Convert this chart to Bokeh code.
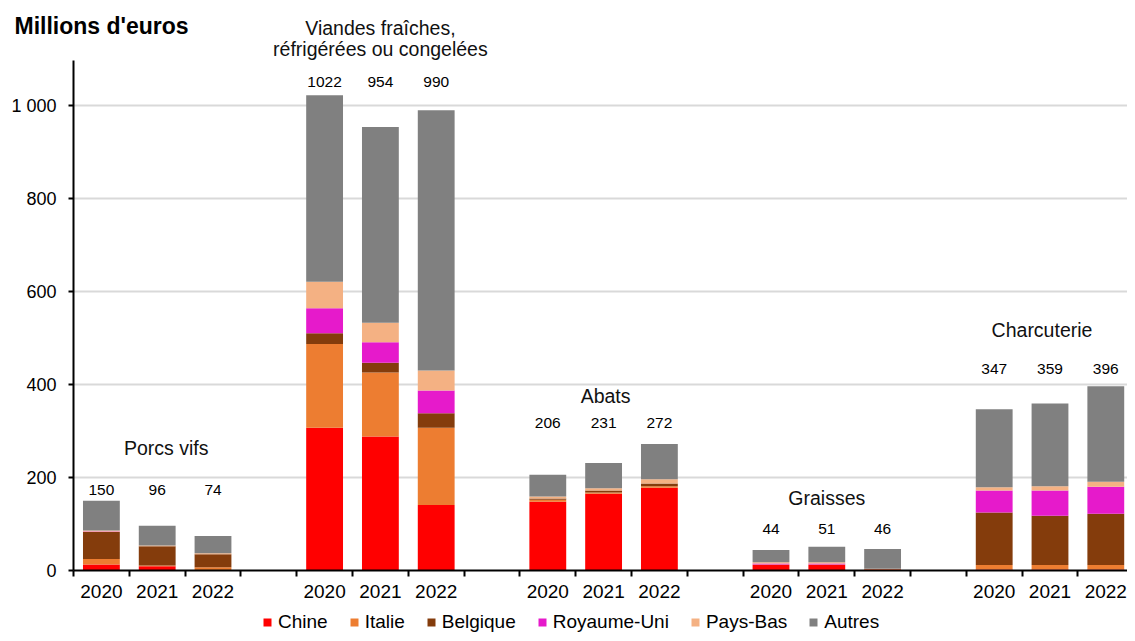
from bokeh.plotting import figure
from bokeh.models import ColumnDataSource, FixedTicker, Label, Legend, LegendItem, Range1d
from bokeh.embed import file_html
from bokeh.resources import INLINE
from bokeh.core.properties import value

groups = ["Porcs vifs", "Viandes fraîches,|réfrigérées ou congelées", "Abats", "Graisses", "Charcuterie"]
years = ["2020", "2021", "2022"]
totals = [150, 96, 74, 1022, 954, 990, 206, 231, 272, 44, 51, 46, 347, 359, 396]
chine = [13, 9, 1, 307, 288, 141, 148, 165, 178, 12, 12, 2, 2, 2, 2]
italie = [12, 2, 6, 180, 138, 166, 4, 3, 3, 1, 1, 1, 10, 10, 10]
belgique = [58, 41, 28, 23, 21, 31, 3, 4, 6, 0, 0, 0, 113, 106, 110]
royaume_uni = [1, 0, 0, 54, 44, 49, 0, 0, 0, 2, 2, 0, 47, 54, 58]
pays_bas = [2, 2, 2, 57, 42, 43, 4, 5, 9, 3, 3, 1, 7, 9, 11]
autres = [64, 42, 37, 401, 421, 560, 47, 54, 76, 26, 33, 42, 168, 178, 205]
y_ticks = [0, 200, 400, 600, 800, 1000]

series = ["Chine", "Italie", "Belgique", "Royaume-Uni", "Pays-Bas", "Autres"]
colors = ["#FF0000", "#ED7D31", "#843C0C", "#E61ACB", "#F4B183", "#808080"]

FONT = "Liberation Sans"
W, H = 1127, 633
X0_PX, SLOT_PX = 73, 55.8      # y-axis pixel position, width of one slot
Y0_PX, PX_PER_UNIT = 570, 0.465

# layout: each group takes 3 slots + 1 empty slot
xs, xlabels, gid = [], [], []
for g in range(len(groups)):
    for k in range(len(years)):
        xs.append(g * 4 + k + 0.5)
        xlabels.append(years[k])
        gid.append(g)
nslots = len(groups) * 4 - 1

# value labels: one height per group, a few pixels above the group's tallest bar
label_gap_px = [11, 13, 21, 18, 17]
gmax = [max(t for t, gg in zip(totals, gid) if gg == g) for g in range(len(groups))]
label_y = [gmax[g] + label_gap_px[g] / PX_PER_UNIT for g in gid]

src = ColumnDataSource(dict(x=xs, ly=label_y, label=[str(t) for t in totals],
                            Chine=chine, Italie=italie, Belgique=belgique,
                            **{"Royaume-Uni": royaume_uni, "Pays-Bas": pays_bas},
                            Autres=autres))

x_start = -X0_PX / SLOT_PX
x_end = (W - X0_PX) / SLOT_PX
y_start = -(H - Y0_PX) / PX_PER_UNIT
y_end = Y0_PX / PX_PER_UNIT

p = figure(width=W, height=H, output_backend="svg", toolbar_location=None,
           x_range=Range1d(x_start, x_end), y_range=Range1d(y_start, y_end),
           min_border_left=0, min_border_right=0, min_border_top=0, min_border_bottom=0)
p.outline_line_color = None
p.background_fill_color = "white"
p.border_fill_color = "white"

renderers = p.vbar_stack(series, x="x", width=0.66, color=colors, source=src, line_color=None)

p.text(x="x", y="ly", text="label", source=src, text_align="center", text_baseline="middle",
       text_font=value(FONT), text_font_size="15.5px", text_color="black")

# axes
p.xgrid.grid_line_color = None
p.ygrid.grid_line_color = "#D9D9D9"
p.ygrid.grid_line_width = 2
p.ygrid.ticker = FixedTicker(ticks=y_ticks[1:])
try:
    p.ygrid.cross_bounds = (0, nslots)
except Exception:
    pass

p.yaxis.fixed_location = 0
p.yaxis.bounds = (0, 1097)
p.yaxis.ticker = FixedTicker(ticks=y_ticks)
p.yaxis.major_label_overrides = {1000: "1 000"}
p.yaxis.axis_line_width = 2
p.yaxis.axis_line_color = "black"
p.yaxis.major_tick_out = 5
p.yaxis.major_tick_in = 0
p.yaxis.major_tick_line_width = 2
p.yaxis.minor_tick_line_color = None
p.yaxis.major_label_text_font = FONT
p.yaxis.major_label_text_font_size = "18px"
p.yaxis.major_label_text_color = "black"
p.yaxis.major_label_standoff = 12

p.xaxis.fixed_location = 0
p.xaxis.bounds = (0, nslots)
p.xaxis.ticker = FixedTicker(ticks=xs, minor_ticks=list(range(0, nslots + 1)))
p.xaxis.major_label_overrides = {x: l for x, l in zip(xs, xlabels)}
p.xaxis.major_tick_line_color = None
p.xaxis.minor_tick_out = 6
p.xaxis.minor_tick_in = 0
p.xaxis.minor_tick_line_width = 2
p.xaxis.minor_tick_line_color = "black"
p.xaxis.axis_line_width = 2
p.xaxis.axis_line_color = "black"
p.xaxis.major_label_text_font = FONT
p.xaxis.major_label_text_font_size = "19px"
p.xaxis.major_label_text_color = "black"
p.xaxis.major_label_standoff = 8

# group titles (pixel heights of the title centres)
title_px = [[447], [27, 48], [395], [497], [329]]
title_dx = [9, 0, 2, 0, -8]
for g, name in enumerate(groups):
    for ln, ypx in zip(name.split("|"), title_px[g]):
        p.add_layout(Label(x=g * 4 + 1.5, y=(Y0_PX - ypx) / PX_PER_UNIT, x_offset=title_dx[g],
                           text=ln, text_align="center", text_baseline="middle",
                           text_font=FONT, text_font_size="19.5px", text_color="#111111"))

p.add_layout(Label(x=(14 - X0_PX) / SLOT_PX, y=(Y0_PX - 25) / PX_PER_UNIT, text="Millions d'euros",
                   text_align="left", text_baseline="middle", text_font=FONT,
                   text_font_size="23px", text_font_style="bold", text_color="black"))

legend = Legend(items=[LegendItem(label=s, renderers=[r]) for s, r in zip(series, renderers)],
                orientation="horizontal", location=(262, 0), glyph_width=10, glyph_height=10,
                label_text_font=FONT, label_text_font_size="19px", label_standoff=6,
                spacing=21, border_line_color=None, background_fill_alpha=0,
                padding=0, margin=0, label_height=19, label_text_color="black")
p.add_layout(legend, "center")

open("out.html", "w").write(file_html(p, INLINE))
